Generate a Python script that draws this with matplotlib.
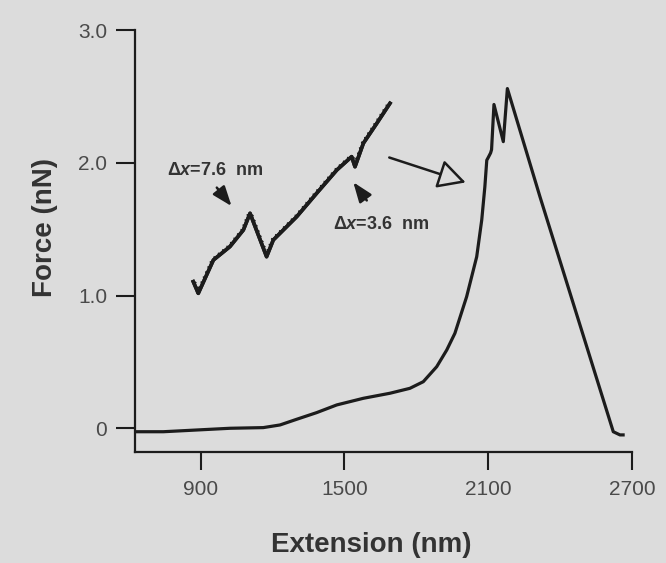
import numpy as np
import matplotlib
matplotlib.use("Agg")
import matplotlib.pyplot as plt
from matplotlib import patheffects as pe

# Curva principal: extensión (nm) y fuerza (nN)
ext_main = [626, 744, 883, 1022, 1161, 1231, 1301, 1384, 1468, 1579, 1690, 1773,
            1829, 1885, 1927, 1961, 2010, 2052, 2073, 2086, 2094, 2100, 2110, 2114,
            2124, 2163, 2180, 2316, 2622, 2650, 2663]
force_main = [-0.026, -0.026, -0.013, 0.0, 0.005, 0.025, 0.068, 0.118, 0.176, 0.226,
              0.264, 0.301, 0.351, 0.464, 0.59, 0.716, 0.992, 1.293, 1.57, 1.82,
              2.02, 2.04, 2.075, 2.10, 2.44, 2.16, 2.56, 1.745, -0.026, -0.05, -0.05]

# Detalle (inset) dibujado sobre los mismos ejes
ext_zoom = [869, 890, 953, 1022, 1078, 1106, 1175, 1203, 1301, 1384, 1468, 1530,
            1544, 1579, 1635, 1690]
force_zoom = [1.105, 1.017, 1.268, 1.369, 1.494, 1.62, 1.293, 1.419, 1.595, 1.771,
              1.946, 2.047, 1.971, 2.148, 2.298, 2.449]

x_ticks = [900, 1500, 2100, 2700]
y_ticks = [0, 1.0, 2.0, 3.0]
y_tick_labels = ["0", "1.0", "2.0", "3.0"]

bg = "#dcdcdc"
ink = "#1c1c1c"
plt.rcParams["font.family"] = ["Liberation Sans", "DejaVu Sans"]
plt.rcParams["mathtext.fontset"] = "custom"
plt.rcParams["mathtext.rm"] = "Liberation Sans:bold"
plt.rcParams["mathtext.it"] = "Liberation Sans:bold:italic"

fig = plt.figure(figsize=(6.66, 5.63), dpi=100, facecolor=bg)
ax = fig.add_axes([0.2027, 0.1972, 0.7462, 0.7492])
ax.set_facecolor(bg)

# trazo dentado para imitar el ruido del detalle
rough = [pe.Stroke(linewidth=2.6, foreground=ink),
         pe.withTickedStroke(spacing=4, angle=120, length=0.35, linewidth=1.3, foreground=ink)]

ax.plot(ext_main, force_main, color=ink, lw=2.3, solid_joinstyle="round")
ax.plot(ext_zoom, force_zoom, color=ink, lw=2.6, solid_joinstyle="round",
        path_effects=rough)

ax.set_xlim(625.8, 2700)
ax.set_ylim(-0.1786, 3.0)
ax.spines["top"].set_visible(False)
ax.spines["right"].set_visible(False)
for s in ["left", "bottom"]:
    ax.spines[s].set_linewidth(1.6)
    ax.spines[s].set_color(ink)

ax.set_xticks(x_ticks)
ax.set_yticks(y_ticks)
ax.set_yticklabels(y_tick_labels)
ax.tick_params(axis="y", direction="out", length=14, width=1.5, pad=6,
               labelsize=15, colors=ink, labelcolor="#4a4a4a")
ax.tick_params(axis="x", direction="out", length=13, width=1.5, pad=7,
               labelsize=15, colors=ink, labelcolor="#4a4a4a")

ax.set_xlabel("Extension (nm)", fontsize=20, fontweight="bold", color="#333333")
ax.xaxis.set_label_coords(0.475, -0.2205)
ax.xaxis.label.set_va("center")
ax.set_ylabel("Force (nN)", fontsize=20, fontweight="bold", color="#333333")
ax.yaxis.set_label_coords(-0.181, 0.533)
ax.yaxis.label.set_va("center")

# Anotaciones
ax.text(960, 1.946, r"$\Delta\mathit{x}$=7.6  nm", fontsize=13, fontweight="bold",
        color="#333333", ha="center", va="center")
ax.annotate("", xy=(1036, 1.658), xytext=(960, 1.83),
            arrowprops=dict(arrowstyle="-|>,head_length=1.2,head_width=0.45",
                            color=ink, lw=1.8))
ax.text(1652, 1.532, r"$\Delta\mathit{x}$=3.6  nm", fontsize=13, fontweight="bold",
        color="#333333", ha="center", va="center")
ax.annotate("", xy=(1530, 1.871), xytext=(1600, 1.70),
            arrowprops=dict(arrowstyle="-|>,head_length=1.2,head_width=0.45",
                            color=ink, lw=1.8))
ax.annotate("", xy=(2017, 1.846), xytext=(1676, 2.047),
            arrowprops=dict(arrowstyle="-|>,head_length=1.7,head_width=0.9",
                            fc=bg, ec=ink, lw=1.8))

fig.savefig("out.png", dpi=100, facecolor=bg)
